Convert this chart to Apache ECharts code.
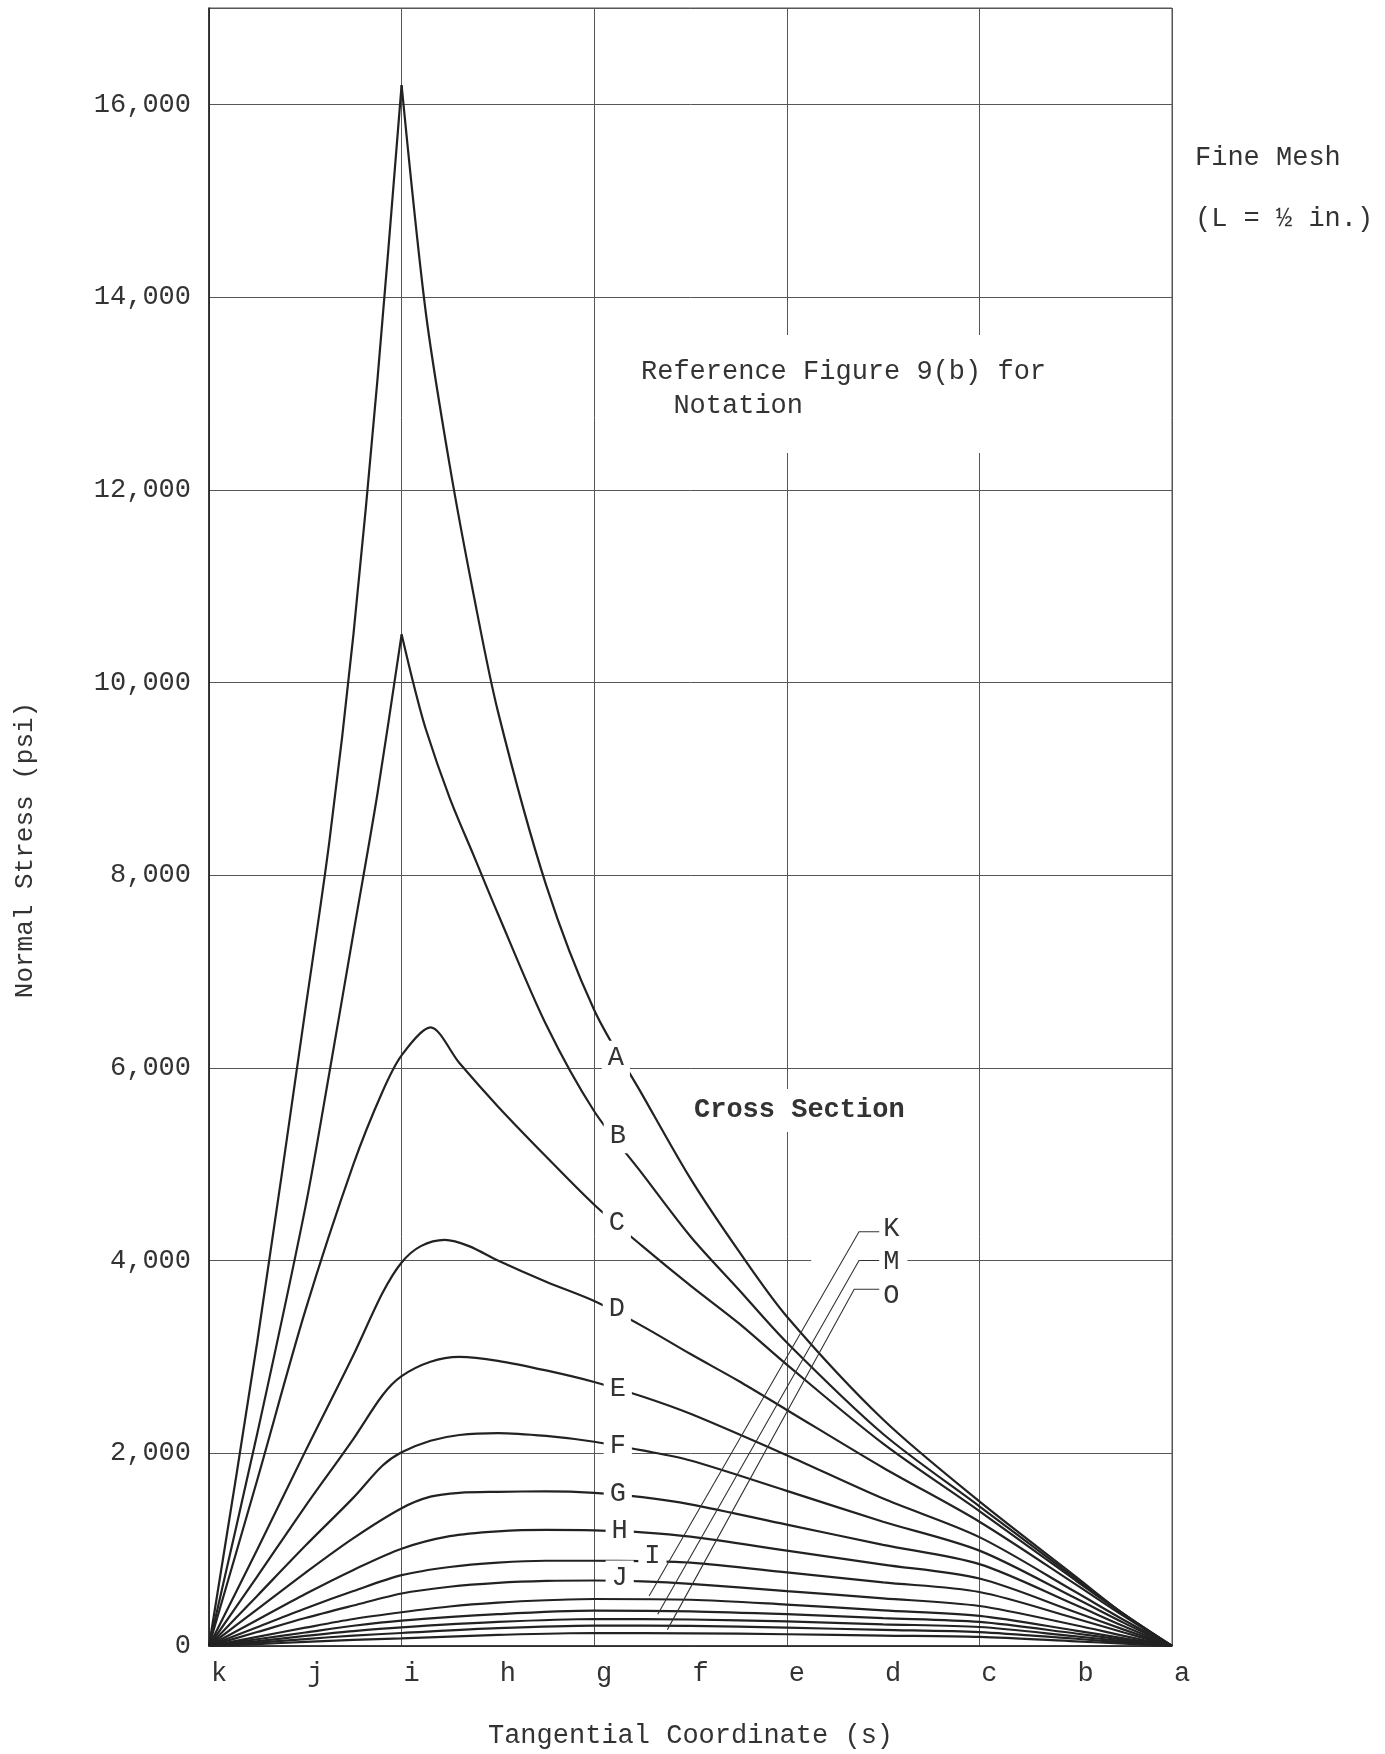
<!DOCTYPE html>
<html>
<head>
<meta charset="utf-8">
<script src="https://cdn.jsdelivr.net/npm/echarts@6/dist/echarts.min.js"></script>
<style>
html,body{margin:0;padding:0;background:#fff;}
#chart{width:1385px;height:1754px;}
</style>
</head>
<body>
<div id="chart"></div>
<script>
// ---------- data ----------
const xTickLabels = ['k','j','i','h','g','f','e','d','c','b','a'];
const yTickStep = 2000;

const curveA = [[0,0],[0.5,3150],[1.0,6600],[1.25,8350],[1.5,10500],[1.75,13150],[2.0,16200],[2.25,13850],[2.5,12250],[2.75,10900],[3.0,9700],[3.5,7900],[4.0,6600],[4.5,5720],[5.0,4850],[5.5,4100],[6,3420],[7,2350],[8,1500],[9,720],[9.5,330],[10,0]];
const curveB = [[0,0],[0.5,2200],[1.0,4550],[1.25,5950],[1.5,7400],[1.75,8850],[2.0,10500],[2.12,10000],[2.25,9520],[2.5,8800],[2.75,8200],[3.0,7600],[3.5,6450],[4.0,5550],[4.5,4900],[5.0,4250],[5.5,3700],[6,3150],[7,2200],[8,1450],[9,700],[9.5,330],[10,0]];
const curveC = [[0,0],[0.5,1720],[1.0,3480],[1.5,5000],[1.8,5750],[2.0,6130],[2.3,6420],[2.6,6050],[3.0,5600],[3.5,5080],[4.0,4580],[4.5,4150],[5.0,3740],[5.5,3350],[6,2920],[7,2100],[8,1400],[9,680],[9.5,330],[10,0]];
const curveD = [[0,0],[0.5,1000],[1.0,2020],[1.5,3020],[1.8,3660],[2.0,3980],[2.2,4150],[2.45,4215],[2.7,4150],[3.0,4000],[3.5,3780],[4.0,3580],[4.5,3320],[5.0,3030],[5.5,2750],[6,2450],[7,1850],[8,1290],[9,640],[9.5,310],[10,0]];
const curveE = [[0,0],[0.5,720],[1.0,1450],[1.5,2150],[1.8,2600],[2.0,2800],[2.3,2950],[2.6,3000],[3.0,2960],[3.5,2860],[4.0,2740],[4.5,2590],[5.0,2410],[6,1980],[7,1530],[8,1130],[9,560],[9.5,270],[10,0]];
const curveF = [[0,0],[0.5,520],[1.0,1040],[1.5,1540],[1.8,1870],[2.0,2010],[2.3,2130],[2.6,2190],[3.0,2210],[3.5,2180],[4.0,2120],[4.5,2030],[5.0,1925],[6,1610],[7,1290],[8,990],[9,495],[9.5,240],[10,0]];
const curveG = [[0,0],[0.5,380],[1.0,760],[1.5,1120],[2.0,1430],[2.3,1550],[2.6,1590],[3.0,1600],[3.5,1605],[4.0,1590],[4.5,1545],[5.0,1470],[6,1260],[7,1050],[8,850],[9,425],[9.5,205],[10,0]];
const curveH = [[0,0],[0.5,270],[1.0,540],[1.5,790],[2.0,1010],[2.5,1140],[3.0,1190],[3.5,1205],[4.0,1200],[4.5,1180],[5.0,1135],[6,990],[7,845],[8,700],[9,350],[9.5,170],[10,0]];
const curveI = [[0,0],[0.5,195],[1.0,390],[1.5,570],[2.0,735],[2.5,820],[3.0,865],[3.5,885],[4.0,885],[4.5,880],[5.0,865],[6,765],[7,660],[8,560],[9,285],[9.5,140],[10,0]];
const curveJ = [[0,0],[0.5,145],[1.0,290],[1.5,420],[2.0,545],[2.5,615],[3.0,655],[3.5,675],[4.0,680],[4.5,670],[5.0,645],[6,570],[7,495],[8,415],[9,215],[9.5,105],[10,0]];
const curveK = [[0,0],[0.5,95],[1.0,190],[1.5,280],[2.0,350],[2.5,410],[3.0,450],[3.5,475],[4.0,488],[5.0,480],[6,430],[7,370],[8,312],[9,160],[9.5,80],[10,0]];
const curveL = [[0,0],[0.5,70],[1.0,140],[1.5,210],[2.0,263],[3.0,330],[4.0,367],[5.0,360],[6,330],[7,290],[8,250],[9,130],[9.5,65],[10,0]];
const curveM = [[0,0],[0.5,50],[1.0,105],[1.5,155],[2.0,194],[3.0,250],[4.0,280],[5.0,275],[6,255],[7,225],[8,197],[9,100],[9.5,50],[10,0]];
const curveN = [[0,0],[0.5,35],[1.0,72],[1.5,108],[2.0,135],[3.0,185],[4.0,211],[5.0,208],[6,190],[7,168],[8,145],[9,75],[9.5,38],[10,0]];
const curveO = [[0,0],[0.5,20],[1.0,42],[1.5,63],[2.0,80],[3.0,115],[4.0,135],[5.0,132],[6,122],[7,108],[8,94],[9,48],[9.5,24],[10,0]];

const curveNames = ['A','B','C','D','E','F','G','H','I','J','K','L','M','N','O'];
const curves = [curveA,curveB,curveC,curveD,curveE,curveF,curveG,curveH,curveI,curveJ,curveK,curveL,curveM,curveN,curveO];
const sharpPeakCurves = ['A','B'];   // drawn with a cusp at the peak

// curve label anchors (data coordinates)
const curveLabelAnchors = [
  [4.23,6094,'A'],[4.25,5291,'B'],[4.24,4385,'C'],[4.24,3490,'D'],[4.25,2665,'E'],
  [4.25,2072,'F'],[4.25,1572,'G'],[4.27,1188,'H'],[4.61,933,'I'],[4.27,700,'J'],
  [7.09,4326,'K'],[7.09,3978,'M'],[7.09,3629,'O']
];
// leader lines (data coordinates)
const leaderK = [[6.96,4299],[6.75,4299],[4.57,519]];
const leaderM = [[6.96,4001],[6.75,4001],[4.66,330]];
const leaderO = [[6.96,3702],[6.70,3702],[4.76,170]];

// ---------- chart ----------
const FONT = "'Courier New','Liberation Mono',monospace";
const INK = '#222';
const TEXT = '#333';
const chart = echarts.init(document.getElementById('chart'), null, {renderer:'canvas'});

function lineSeriesFor(name, data) {
  return {
    type: 'line', name: name, data: data,
    symbol: 'none', showSymbol: false, smooth: 0.3,
    lineStyle: {color: INK, width: 2.2},
    z: 3, silent: true
  };
}
const lineSeries = [];
curves.forEach((c, i) => {
  const name = curveNames[i];
  if (sharpPeakCurves.includes(name)) {
    let pk = 0;
    c.forEach((p, j) => { if (p[1] > c[pk][1]) pk = j; });
    lineSeries.push(lineSeriesFor(name, c.slice(0, pk + 1)));
    lineSeries.push(lineSeriesFor(name, c.slice(pk)));
  } else {
    lineSeries.push(lineSeriesFor(name, c));
  }
});

const labelSeries = {
  type: 'scatter',
  data: curveLabelAnchors.map(p => ({
    value: [p[0], p[1]], name: p[2],
    label: p[2] === 'M' ? {padding: [4, 8, 4, 72], offset: [-32, 0]} : undefined
  })),
  symbolSize: 1,
  itemStyle: {color: '#fff', opacity: 0},
  label: {
    show: true, position: [0, 0], align: 'center', verticalAlign: 'middle',
    formatter: '{b}', fontFamily: FONT, fontSize: 27, color: TEXT,
    backgroundColor: '#fff', padding: [4, 6], textBorderWidth: 0, opacity: 1
  },
  z: 10, silent: true
};

const leaderSeries = {
  type: 'lines',
  coordinateSystem: 'cartesian2d',
  polyline: true,
  data: [{coords: leaderK}, {coords: leaderM}, {coords: leaderO}],
  symbol: ['none', 'arrow'],
  symbolSize: 11,
  lineStyle: {color: '#333', width: 1.1, opacity: 1},
  z: 12, silent: true
};

chart.setOption({
  animation: false,
  backgroundColor: '#fff',
  grid: {left: 209, right: 213, top: 8, bottom: 107, show: true, borderColor: '#555', borderWidth: 1, backgroundColor: 'rgba(0,0,0,0)'},
  xAxis: [{
    type: 'value', min: 0, max: 10, interval: 1, position: 'bottom',
    axisLine: {show: true, lineStyle: {color: INK, width: 1.6}},
    axisTick: {show: false},
    splitLine: {show: false},
    axisLabel: {formatter: v => xTickLabels[Math.round(v)] || '', fontFamily: FONT, fontSize: 27, color: TEXT, margin: 14, padding: [0, 0, 0, 20]},
    name: 'Tangential Coordinate (s)', nameLocation: 'middle', nameGap: 76,
    nameTextStyle: {fontFamily: FONT, fontSize: 27, color: TEXT}
  }, {
    type: 'value', min: 0, max: 10, interval: 2, position: 'bottom',
    axisLine: {show: false}, axisTick: {show: false}, axisLabel: {show: false},
    splitLine: {show: true, lineStyle: {color: '#555', width: 1}}
  }],
  yAxis: {
    type: 'value', min: 0, max: 17000, interval: yTickStep,
    axisLine: {show: true, lineStyle: {color: INK, width: 1.6}},
    axisTick: {show: false},
    splitLine: {show: true, lineStyle: {color: '#555', width: 1}},
    axisLabel: {
      formatter: v => (v % yTickStep === 0 && v <= 16000) ? v.toLocaleString('en-US') : '',
      fontFamily: FONT, fontSize: 27, color: TEXT, margin: 18
    },
    name: 'Normal Stress (psi)', nameLocation: 'middle', nameGap: 171, nameRotate: 90,
    nameTextStyle: {fontFamily: FONT, fontSize: 26, color: TEXT, padding: [0, 46, 0, 0]}
  },
  graphic: [
    {type: 'text', left: 1195, top: 144, z: 100, style: {text: 'Fine Mesh', font: "27px " + FONT, fill: TEXT}},
    {type: 'text', left: 1195, top: 205, z: 100, style: {text: '(L = \u00bd in.)', font: "27px " + FONT, fill: TEXT}},
    {type: 'text', left: 631, top: 335, z: 100, style: {text: 'Reference Figure 9(b) for\n  Notation', font: "27px " + FONT, fill: TEXT, lineHeight: 34, backgroundColor: '#fff', padding: [20, 10, 30, 10]}},
    {type: 'text', left: 688, top: 1089, z: 100, style: {text: 'Cross Section', font: "bold 27px " + FONT, fill: TEXT, backgroundColor: '#fff', padding: [8, 6, 8, 6]}}
  ],
  series: [...lineSeries, leaderSeries, labelSeries]
});
</script>
</body>
</html>
